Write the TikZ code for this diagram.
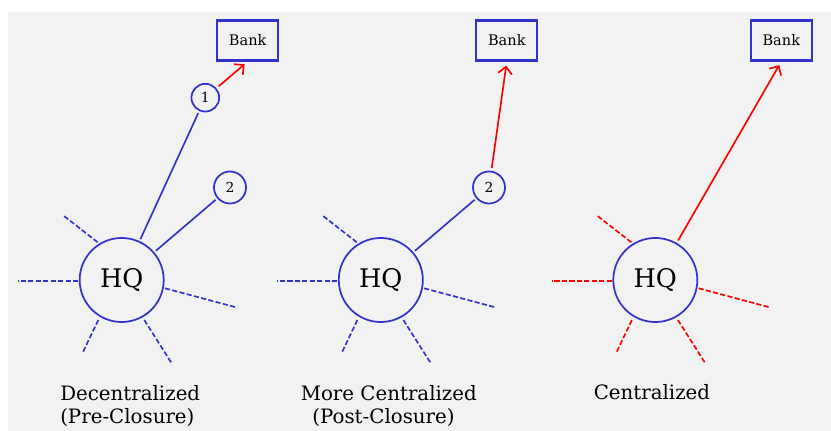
\documentclass[tikz,border=0pt]{standalone}
\usepackage{fontspec}
\setmainfont{DejaVu Serif}
\usetikzlibrary{arrows.meta,calc}
\definecolor{hqblue}{RGB}{51,51,204}
\definecolor{bggray}{RGB}{242,242,242}

\begin{document}
\begin{tikzpicture}[x=0.01in, y=0.01in,
        hq/.style={circle, draw=hqblue, line width=1.25pt, minimum size=0.84in, inner sep=0pt, font=\fontsize{18.5}{21}\selectfont},
        branch/.style={circle, draw=hqblue, line width=1.25pt, inner sep=0pt, font=\fontsize{10}{12}\selectfont},
        bank/.style={draw=hqblue, line width=1.5pt, minimum width=0.61in, minimum height=0.40in, inner sep=0pt, font=\fontsize{10.5}{12}\selectfont},
        link/.style={draw=hqblue, line width=1.2pt, shorten <=1.5pt, shorten >=1.5pt},
        cash/.style={draw=red, line width=1.2pt, -{Straight Barb[length=5pt,width=10pt]}, shorten <=2pt, shorten >=3pt},
        spoke/.style={line width=1.2pt, dash pattern=on 3.7pt off 1.7pt},
        caption/.style={font=\fontsize{14.3}{17.3}\selectfont, align=left, anchor=base west, inner sep=0pt}]

    \useasboundingbox (0,0) rectangle (831,431);
    \fill[bggray] (8,0) rectangle (831,419);

    \node[hq] (hq1) at (121.7,151) {HQ};
    \node[hq] (hq2) at (380.8,151) {HQ};
    \node[hq] (hq3) at (655.3,151) {HQ};

    \node[bank] (bank1) at (247.7,390.5) {Bank};
    \node[bank] (bank2) at (506.8,390.5) {Bank};
    \node[bank] (bank3) at (781.3,390.5) {Bank};

    \node[branch, minimum size=0.277in] (br11) at (205.3,333.3) {1};
    \node[branch, minimum size=0.32in] (br12) at (230,243.5) {2};
    \node[branch, minimum size=0.32in] (br22) at (489,243.5) {2};

    % links to the branches, money flows to the bank
    \draw[link] (hq1) -- (br11);
    \draw[link] (hq1) -- (br12);
    \draw[link] (hq2) -- (br22);
    \draw[cash] (br11) -- (bank1.south);
    \draw[cash] (br22) -- (bank2.south);
    \draw[cash] (hq3) -- (bank3.south);

    % dashed spokes round each HQ
    \foreach \hq/\col in {hq1/hqblue, hq2/hqblue, hq3/red}
        \foreach \ax/\ay/\bx/\by in {-24/37.7/-59/65, -43.4/-1.2/-103.4/-1.2, 43.3/-8.3/114.3/-27.3, -23.4/-40/-39/-72.7, 22.6/-40/50/-83.3}
            \draw[spoke, draw=\col] ($(\hq)+(\ax,\ay)$) -- ($(\hq)+(\bx,\by)$);

    \node[caption] (cap1) at (60,7) {Decentralized\\(Pre-Closure)};
    \node[caption] (cap2) at (300.5,7) {More Centralized\\\hspace*{0.116in}(Post-Closure)};
    \node[caption] (cap3) at (593.5,31) {Centralized};
\end{tikzpicture}
\end{document}
